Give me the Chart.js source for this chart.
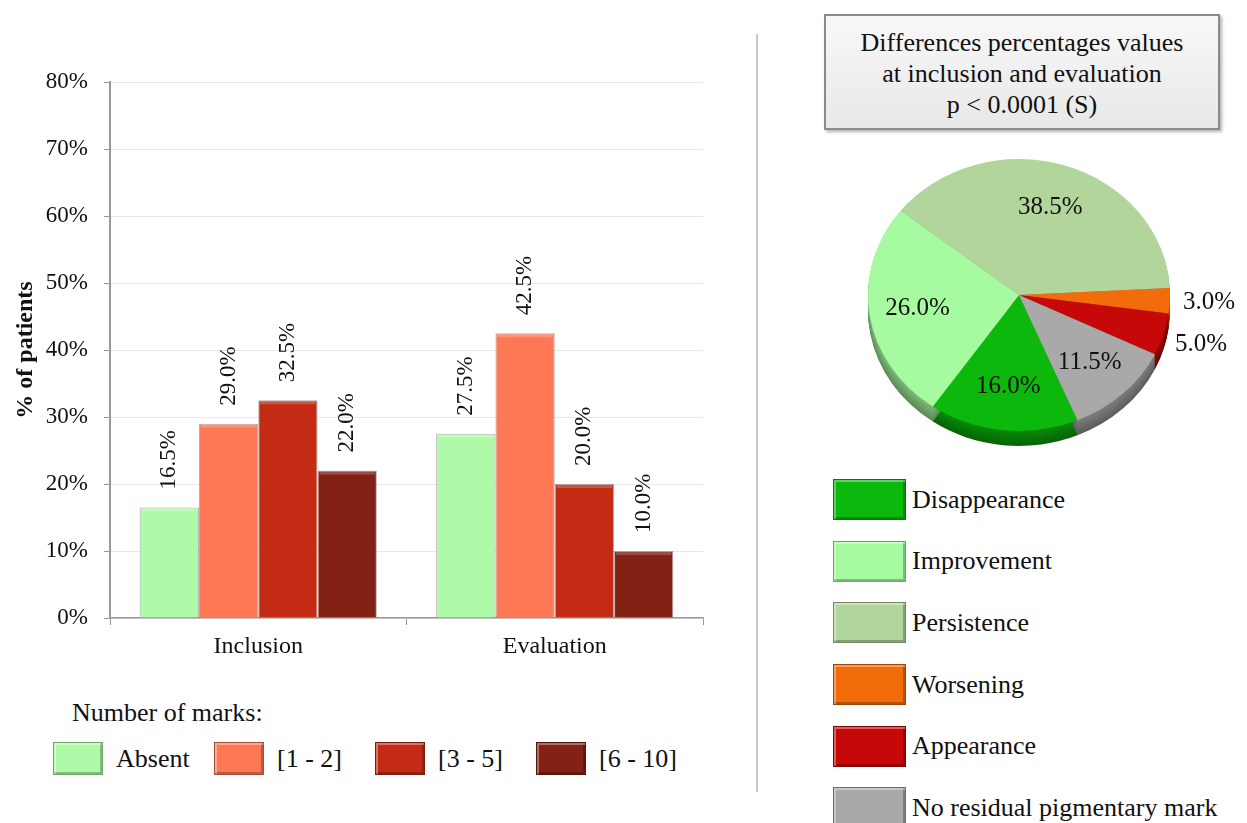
<!DOCTYPE html>
<html>
<head>
<meta charset="utf-8">
<script src="https://cdn.jsdelivr.net/npm/chart.js@4"></script>
<style>
    body { margin: 0; width: 1247px; height: 823px; overflow: hidden; background: #fff; position: relative; font-family: "Liberation Serif", "Times New Roman", serif; color: #111; }
    #bar-wrap { position: absolute; left: 0; top: 0; width: 740px; height: 680px; }
    #pie-wrap { position: absolute; left: 840px; top: 140px; width: 407px; height: 330px; }
    .divider { position: absolute; left: 756px; top: 34px; width: 2px; height: 758px; background: #c8c8c8; }
    .bar-legend-title { position: absolute; left: 72px; top: 698px; font-size: 26px; line-height: 30px; }
    .bar-legend { position: absolute; left: 53px; top: 742px; display: flex; }
    .bar-legend .item { display: flex; align-items: center; width: 161px; height: 33px; font-size: 26px; }
    .swatch { box-sizing: border-box; border: 1px solid rgba(0, 0, 0, .35); box-shadow: inset 2px 2px 0 rgba(255, 255, 255, .35), inset -2px -2px 0 rgba(0, 0, 0, .25); flex: none; }
    .bar-legend .swatch { width: 50px; height: 33px; margin-right: 13px; }
    .pie-title { position: absolute; left: 824px; top: 14px; width: 396px; height: 116px; box-sizing: border-box; border: 2px solid #8a8a8a; background: linear-gradient(#f8f8f8, #e8e8e8); box-shadow: 2px 2px 3px rgba(0, 0, 0, .3); text-align: center; font-size: 26px; line-height: 31px; padding-top: 11px; }
    .pie-legend { position: absolute; left: 833px; top: 479px; }
    .pie-legend .item { display: flex; align-items: center; height: 41px; margin-bottom: 20.7px; font-size: 26px; white-space: nowrap; }
    .pie-legend .swatch { width: 73px; height: 41px; margin-right: 6px; }
</style>
</head>
<body>
<div id="bar-wrap"><canvas id="bar-chart"></canvas></div>
<div class="divider"></div>
<div class="bar-legend-title">Number of marks:</div>
<div class="bar-legend"></div>
<div class="pie-title">Differences percentages values<br>at inclusion and evaluation<br>p &lt; 0.0001 (S)</div>
<div id="pie-wrap"><canvas id="pie-chart"></canvas></div>
<div class="pie-legend"></div>

<script>
// bar chart data
const periods = ['Inclusion', 'Evaluation']
const markGroups = ['Absent', '[1 - 2]', '[3 - 5]', '[6 - 10]']
const absentValues = [16.5, 27.5]
const oneToTwoValues = [29.0, 42.5]
const threeToFiveValues = [32.5, 20.0]
const sixToTenValues = [22.0, 10.0]
const markColors = ['#aefaa8', '#fe7856', '#c42b14', '#842115']
const yTicks = [0, 10, 20, 30, 40, 50, 60, 70, 80]

// pie chart data
const evolutionLabels = ['Disappearance', 'Improvement', 'Persistence', 'Worsening', 'Appearance', 'No residual pigmentary mark']
const evolutionValues = [16.0, 26.0, 38.5, 3.0, 5.0, 11.5]
const evolutionColors = ['#0cb80c', '#a6fba0', '#b1d59a', '#f26c0c', '#c70808', '#a9a9a9']

const serif = '"Liberation Serif", "Times New Roman", serif'
Chart.defaults.font.family = serif
Chart.defaults.color = '#111'

const pieTilt = 0.9
const pieDepth = 15

$ = sel => document.querySelector(sel)

function shade(hex, factor) {
    const n = parseInt(hex.slice(1), 16)
    const r = Math.round(((n >> 16) & 255) * factor)
    const g = Math.round(((n >> 8) & 255) * factor)
    const b = Math.round((n & 255) * factor)
    return `rgb(${r},${g},${b})`
}

function renderLegends() {
    $('.bar-legend').innerHTML = markGroups.map((name, i) => `
        <div class="item"><span class="swatch" style="background:${markColors[i]}"></span>${name}</div>
    `).join('')
    $('.pie-legend').innerHTML = evolutionLabels.map((name, i) => `
        <div class="item"><span class="swatch" style="background:${evolutionColors[i]}"></span>${name}</div>
    `).join('')
}

// value labels written vertically above each bar, plus a light bevel line on top
const barLabelPlugin = {
    id: 'barLabels',
    afterDatasetsDraw(chart) {
        const ctx = chart.ctx
        ctx.save()
        chart.data.datasets.forEach((ds, i) => {
            chart.getDatasetMeta(i).data.forEach((bar, j) => {
                ctx.fillStyle = 'rgba(255,255,255,0.2)'
                ctx.fillRect(bar.x - bar.width / 2 + 2, bar.y + 1, bar.width - 4, 3)
                ctx.save()
                ctx.translate(bar.x, bar.y - 18)
                ctx.rotate(-Math.PI / 2)
                ctx.font = `23px ${serif}`
                ctx.fillStyle = '#111'
                ctx.textAlign = 'left'
                ctx.textBaseline = 'middle'
                ctx.fillText(ds.data[j].toFixed(1) + '%', 0, 0)
                ctx.restore()
            })
        })
        ctx.restore()
    }
}

function createBarChart() {
    const series = [absentValues, oneToTwoValues, threeToFiveValues, sixToTenValues]
    new Chart($('#bar-chart'), {
        type: 'bar',
        data: {
            labels: periods,
            datasets: series.map((values, i) => ({
                label: markGroups[i],
                data: values,
                backgroundColor: markColors[i],
                borderColor: 'rgba(110,110,110,0.55)',
                borderWidth: 1,
                categoryPercentage: 0.8,
                barPercentage: 1.0
            }))
        },
        options: {
            responsive: true,
            maintainAspectRatio: false,
            animation: false,
            layout: { padding: { left: 0, right: 37, top: 82, bottom: 12 } },
            plugins: { legend: { display: false }, tooltip: { enabled: false } },
            scales: {
                x: {
                    grid: { display: true, drawOnChartArea: false, drawTicks: true, tickLength: 7, color: '#999', offset: true },
                    border: { color: '#999', width: 1.5 },
                    ticks: { font: { size: 24 }, padding: 7, color: '#111' },
                    afterFit: scale => { scale.height = 50 }
                },
                y: {
                    min: yTicks[0],
                    max: yTicks[yTicks.length - 1],
                    afterBuildTicks: scale => { scale.ticks = yTicks.map(v => ({ value: v })) },
                    grid: { color: '#e8e8e8', tickColor: '#999', tickLength: 6 },
                    border: { color: '#999', width: 2 },
                    ticks: { font: { size: 23 }, padding: 16, color: '#111', callback: v => v + '%' },
                    title: { display: true, text: '% of patients', font: { size: 24, weight: 'bold' }, padding: { top: 11, bottom: 0 }, color: '#111' },
                    afterFit: scale => { scale.width = 110 }
                }
            }
        },
        plugins: [barLabelPlugin]
    })
}

// squash the pie into an ellipse and give it a darker side wall
const tiltPlugin = {
    id: 'tilt',
    beforeDatasetsDraw(chart) {
        const ctx = chart.ctx
        const arcs = chart.getDatasetMeta(0).data
        const cx = arcs[0].x, cy = arcs[0].y
        ctx.save()
        ctx.translate(cx, cy)
        ctx.scale(1, pieTilt)
        ctx.translate(-cx, -cy)
        arcs.forEach((arc, i) => {
            for (let d = pieDepth; d > 0; d--) {
                ctx.fillStyle = shade(evolutionColors[i], 0.55 + 0.2 * (pieDepth - d) / pieDepth)
                const y = arc.y + d / pieTilt
                ctx.beginPath()
                ctx.moveTo(arc.x, y)
                ctx.arc(arc.x, y, arc.outerRadius, arc.startAngle, arc.endAngle)
                ctx.closePath()
                ctx.fill()
            }
        })
        ctx.restore()
        ctx.save()
        ctx.translate(cx, cy)
        ctx.scale(1, pieTilt)
        ctx.translate(-cx, -cy)
    },
    afterDatasetsDraw(chart) {
        chart.ctx.restore()
    },
    afterDraw(chart) {
        const ctx = chart.ctx
        const arcs = chart.getDatasetMeta(0).data
        ctx.save()
        ctx.font = `25px ${serif}`
        ctx.fillStyle = '#111'
        ctx.textAlign = 'center'
        ctx.textBaseline = 'middle'
        arcs.forEach((arc, i) => {
            const mid = (arc.startAngle + arc.endAngle) / 2
            const small = evolutionValues[i] < 6
            const r = arc.outerRadius * (small ? 1.26 : 0.68)
            const x = arc.x + Math.cos(mid) * r
            const y = arc.y + Math.sin(mid) * r * pieTilt
            ctx.fillText(evolutionValues[i].toFixed(1) + '%', x, y)
        })
        ctx.restore()
    }
}

function createPieChart() {
    new Chart($('#pie-chart'), {
        type: 'pie',
        data: {
            labels: evolutionLabels,
            datasets: [{
                data: evolutionValues,
                backgroundColor: evolutionColors,
                borderWidth: 0
            }]
        },
        options: {
            responsive: true,
            maintainAspectRatio: false,
            animation: false,
            rotation: 157.2,
            layout: { padding: { left: 28, right: 77, top: 4, bottom: 24 } },
            plugins: { legend: { display: false }, tooltip: { enabled: false } }
        },
        plugins: [tiltPlugin]
    })
}

renderLegends()
createBarChart()
createPieChart()
</script>
</body>
</html>
